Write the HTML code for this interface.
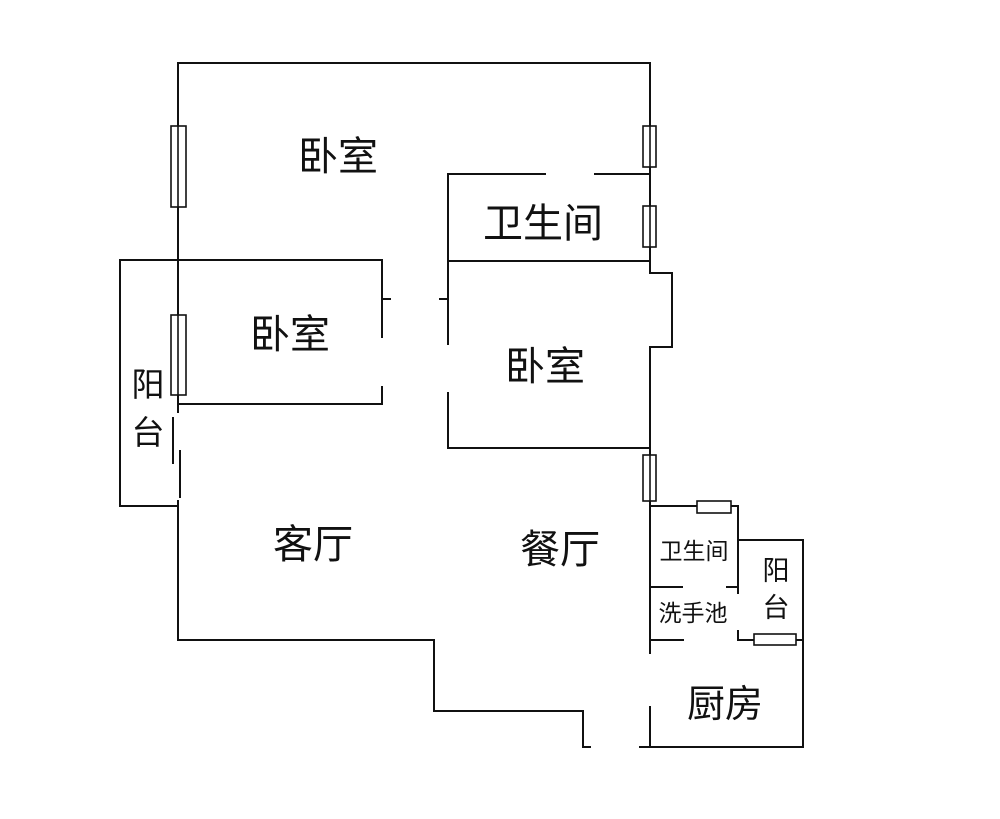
<!DOCTYPE html>
<html><head><meta charset="utf-8"><style>
html,body{margin:0;padding:0;background:#fff;}
svg{display:block;}
text{font-family:"Liberation Sans","Noto Sans CJK SC",sans-serif;fill:#111;}
</style></head><body>
<svg width="1000" height="819" viewBox="0 0 1000 819" xmlns="http://www.w3.org/2000/svg">
<g stroke="#111" stroke-width="2" fill="none" stroke-linecap="square">
<line x1="178" y1="63" x2="650" y2="63"/>
<line x1="178" y1="63" x2="178" y2="412"/>
<line x1="173" y1="418" x2="173" y2="463"/>
<line x1="180" y1="451" x2="180" y2="497"/>
<line x1="178" y1="501" x2="178" y2="640"/>
<polyline points="178,260 120,260 120,506 178,506"/>
<line x1="178" y1="260" x2="382" y2="260"/>
<line x1="382" y1="260" x2="382" y2="337"/>
<line x1="382" y1="299" x2="390" y2="299"/>
<line x1="382" y1="387" x2="382" y2="404"/>
<line x1="178" y1="404" x2="382" y2="404"/>
<line x1="448" y1="174" x2="448" y2="344"/>
<line x1="440" y1="299" x2="448" y2="299"/>
<line x1="448" y1="393" x2="448" y2="448"/>
<line x1="448" y1="448" x2="650" y2="448"/>
<line x1="448" y1="174" x2="545" y2="174"/>
<line x1="595" y1="174" x2="650" y2="174"/>
<line x1="448" y1="261" x2="650" y2="261"/>
<line x1="650" y1="63" x2="650" y2="273"/>
<polyline points="650,273 672,273 672,347 650,347"/>
<line x1="650" y1="347" x2="650" y2="653"/>
<line x1="650" y1="707" x2="650" y2="747"/>
<line x1="650" y1="506" x2="738" y2="506"/>
<line x1="738" y1="506" x2="738" y2="593"/>
<line x1="650" y1="587" x2="682" y2="587"/>
<line x1="727" y1="587" x2="738" y2="587"/>
<line x1="650" y1="640" x2="683" y2="640"/>
<line x1="738" y1="631" x2="738" y2="640"/>
<line x1="738" y1="540" x2="803" y2="540"/>
<line x1="803" y1="540" x2="803" y2="747"/>
<line x1="738" y1="640" x2="803" y2="640"/>
<line x1="650" y1="747" x2="803" y2="747"/>
<polyline points="178,640 434,640 434,711 583,711 583,747 590,747"/>
<line x1="640" y1="747" x2="650" y2="747"/>
</g>
<g stroke="#111" stroke-width="1.6" fill="#fff">
<rect x="171" y="126" width="15" height="81"/>
<line x1="178" y1="126" x2="178" y2="207"/>
<rect x="171" y="315" width="15" height="80"/>
<line x1="178" y1="315" x2="178" y2="395"/>
<rect x="643" y="126" width="13" height="41"/>
<line x1="650" y1="126" x2="650" y2="167"/>
<rect x="643" y="206" width="13" height="41"/>
<line x1="650" y1="206" x2="650" y2="247"/>
<rect x="643" y="455" width="13" height="46"/>
<line x1="650" y1="455" x2="650" y2="501"/>
<rect x="697" y="501" width="34" height="12"/>
<rect x="754" y="634" width="42" height="11"/>
</g>
<g text-anchor="middle">
<text x="338" y="170" font-size="40">卧室</text>
<text x="543" y="237" font-size="40">卫生间</text>
<text x="290" y="348" font-size="40">卧室</text>
<text x="545" y="380" font-size="40">卧室</text>
<text x="148" y="396" font-size="33">阳</text>
<text x="148" y="444" font-size="33">台</text>
<text x="313" y="558" font-size="40">客厅</text>
<text x="560" y="563" font-size="40">餐厅</text>
<text x="694" y="559" font-size="23">卫生间</text>
<text x="693" y="621" font-size="23">洗手池</text>
<text x="776" y="580" font-size="27">阳</text>
<text x="776" y="617" font-size="27">台</text>
<text x="725" y="717" font-size="38">厨房</text>
</g>
</svg>
</body></html>
